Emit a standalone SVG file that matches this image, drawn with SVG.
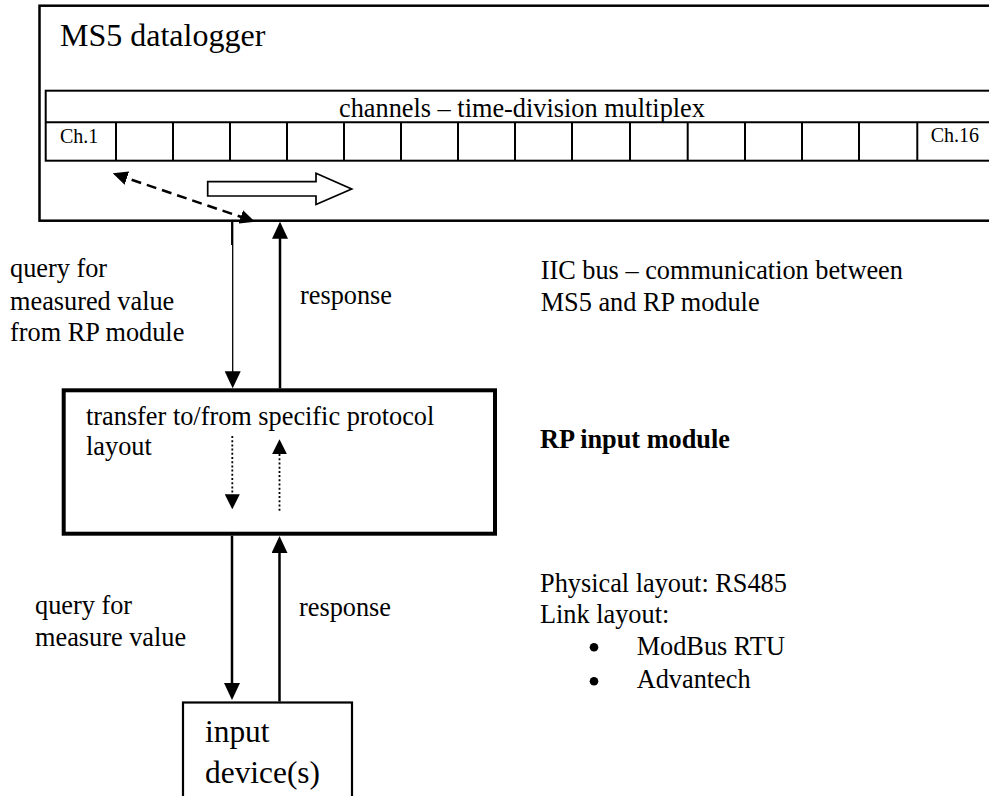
<svg xmlns="http://www.w3.org/2000/svg" width="989" height="796" viewBox="0 0 989 796">
<style>
  text { font-family: "Liberation Serif", "Times New Roman", serif; fill: #000; }
  .body { font-size: 26.3px; }
  .big { font-size: 32px; }
  .dev { font-size: 31.4px; }
  .ch { font-size: 20px; }
  .bold { font-weight: bold; }
  .box { fill: #fff; stroke: #000; }
  .grid { fill: none; stroke: #000; stroke-width: 2; }
  .solid { fill: none; stroke: #000; stroke-width: 2.5; }
  .dotted { fill: none; stroke: #000; stroke-width: 1.8; stroke-dasharray: 2 2.2; }
  .dashed { fill: none; stroke: #000; stroke-width: 2.5; stroke-dasharray: 10 6; }
</style>
<defs>
  <marker id="headL" viewBox="0 0 17 16" refX="13" refY="8" markerWidth="17" markerHeight="16" markerUnits="userSpaceOnUse" orient="auto">
    <path d="M0,0 L17,8 L0,16 z" fill="#000"/>
  </marker>
  <marker id="headS" viewBox="0 0 15 15" refX="12" refY="7.5" markerWidth="15" markerHeight="15" markerUnits="userSpaceOnUse" orient="auto">
    <path d="M0,0 L15,7.5 L0,15 z" fill="#000"/>
  </marker>
  <marker id="headD" viewBox="0 0 15 14" refX="11" refY="7" markerWidth="15" markerHeight="14" markerUnits="userSpaceOnUse" orient="auto-start-reverse">
    <path d="M0,0 L15,7 L0,14 z" fill="#000"/>
  </marker>
</defs>
<rect width="989" height="796" fill="#fff"/>

<g id="ms5">
  <rect class="box" x="39.5" y="5.7" width="960" height="215" stroke-width="2.5"/>
  <text class="big" x="60" y="45.5">MS5 datalogger</text>
  <g id="channels">
    <rect class="grid" x="45.7" y="90.7" width="960" height="70"/>
    <line class="grid" x1="45.7" y1="122.3" x2="995" y2="122.3"/>
    <path class="grid" d="M116,122.3V160.7 M173,122.3V160.7 M230,122.3V160.7 M287,122.3V160.7 M344,122.3V160.7 M401,122.3V160.7 M458,122.3V160.7 M515,122.3V160.7 M572,122.3V160.7 M630,122.3V160.7 M687.7,122.3V160.7 M745,122.3V160.7 M802,122.3V160.7 M859,122.3V160.7 M917.3,122.3V160.7"/>
    <text class="body" x="522" y="116.7" text-anchor="middle">channels – time-division multiplex</text>
    <text class="ch" x="60" y="143.3">Ch.1</text>
    <text class="ch" x="930.7" y="142.3">Ch.16</text>
  </g>
  <polygon points="207.7,181.7 316,181.7 316,173.3 351.7,189 316,204.5 316,196 207.7,196" fill="#fff" stroke="#000" stroke-width="1.7"/>
</g>

<g id="rp-module">
  <rect class="box" x="63.7" y="390.3" width="431.3" height="143.4" stroke-width="4"/>
  <text class="body" x="86" y="425">transfer to/from specific protocol</text>
  <text class="body" x="86" y="455">layout</text>
</g>

<g id="input-device">
  <rect class="box" x="183" y="702.5" width="169" height="110" stroke-width="2.2"/>
  <text class="dev" x="205" y="741.7">input</text>
  <text class="dev" x="205" y="783">device(s)</text>
</g>

<g id="connectors">
  <line class="dashed" x1="116.5" y1="174.6" x2="251.2" y2="220.4" marker-start="url(#headD)" marker-end="url(#headD)"/>
  <line x1="232.2" y1="222" x2="232.2" y2="245" stroke="#000" stroke-width="2.3"/>
  <line x1="232.7" y1="245" x2="232.7" y2="384.3" stroke="#000" stroke-width="1.3" marker-end="url(#headL)"/>
  <line class="solid" x1="280" y1="388.5" x2="280" y2="225.7" marker-end="url(#headL)"/>
  <line class="dotted" x1="232.3" y1="436" x2="232.3" y2="506.3" marker-end="url(#headS)"/>
  <line class="dotted" x1="279.5" y1="510.7" x2="279.5" y2="442.3" marker-end="url(#headS)"/>
  <line class="solid" x1="232" y1="535.7" x2="232" y2="696" marker-end="url(#headL)"/>
  <line class="solid" x1="279.5" y1="701.5" x2="279.5" y2="540" marker-end="url(#headL)"/>
</g>

<g id="labels">
  <text class="body" x="10" y="277.3">query for</text>
  <text class="body" x="10" y="309.5">measured value</text>
  <text class="body" x="10" y="340.7">from RP module</text>
  <text class="body" x="300" y="304">response</text>
  <text class="body" x="540.7" y="279.3">IIC bus – communication between</text>
  <text class="body" x="540.7" y="311">MS5 and RP module</text>
  <text class="body bold" x="540" y="448.3">RP input module</text>
  <text class="body" x="35" y="614.3">query for</text>
  <text class="body" x="35" y="646">measure value</text>
  <text class="body" x="299" y="616">response</text>
  <text class="body" x="540" y="591.5">Physical layout: RS485</text>
  <text class="body" x="540" y="623">Link layout:</text>
  <circle cx="594" cy="647.3" r="4.3" fill="#000"/>
  <text class="body" x="636.7" y="655">ModBus RTU</text>
  <circle cx="594" cy="681.3" r="4.3" fill="#000"/>
  <text class="body" x="636.7" y="688">Advantech</text>
</g>
</svg>
